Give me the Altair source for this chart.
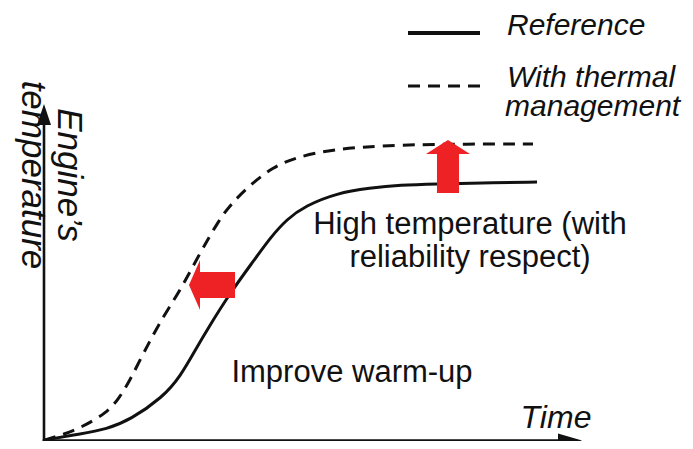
import altair as alt
import pandas as pd

# Conceptual curves (time in %, temperature in %)
time_ref = [0.0, 6.69, 11.71, 15.99, 22.12, 25.28, 28.44, 30.30, 34.57, 39.22, 42.01,
            45.17, 48.51, 54.46, 60.59, 66.17, 73.05, 81.04, 91.64]
temp_ref = [0.1, 1.93, 3.41, 6.07, 12.89, 18.81, 27.70, 32.74, 43.70, 53.78, 60.0,
            65.63, 69.48, 73.33, 74.81, 75.70, 76.0, 76.30, 76.59]

time_tm = [0.0, 3.90, 6.69, 11.71, 14.13, 15.99, 17.84, 19.70, 21.19, 23.42, 25.65,
           29.00, 32.53, 34.76, 38.29, 42.57, 47.03, 53.16, 59.29, 65.61, 77.88, 90.89]
temp_tm = [0.1, 1.93, 3.70, 8.15, 12.89, 17.93, 23.85, 29.48, 33.93, 39.85, 45.48,
           55.56, 65.33, 70.07, 75.70, 81.04, 84.0, 86.07, 86.96, 87.56, 87.85, 87.85]

# annotations
note_text = ["High temperature (with", "reliability respect)", "Improve warm-up"]
note_x = [79.18, 79.18, 57.25]
note_y = [61.19, 51.41, 17.33]

ylab_text = ["Engine\u2019s", "temperature"]
ylab_x = [2.60, -4.09]
ylab_y = [78.67, 78.67]

xlab_text = ["Time"]
xlab_x = [95.17]
xlab_y = [3.70]

legend_labels = ["Reference", "With thermal", "management"]
legend_label_x = [86.06, 86.06, 85.70]
legend_label_y = [120.15, 104.74, 96.15]
legend_line_x = [67.66, 81.04]
legend_line_y = [120.74, 105.04]

XDOM = [-6.691, 119.145]
YDOM = [-0.148, 128.148]
FONT = "Liberation Sans"
RED = "#ee2124"
INK = "#111111"

xs = alt.Scale(domain=XDOM, nice=False, zero=False)
ys = alt.Scale(domain=YDOM, nice=False, zero=False)


def X(f="x"):
    return alt.X(f + ":Q", scale=xs, axis=None)


def Y(f="y"):
    return alt.Y(f + ":Q", scale=ys, axis=None)


ref_df = pd.DataFrame({"x": time_ref, "y": temp_ref})
tm_df = pd.DataFrame({"x": time_tm, "y": temp_tm})

ref_line = alt.Chart(ref_df).mark_line(
    color=INK, strokeWidth=3, interpolate="basis"
).encode(x=X(), y=Y())

tm_line = alt.Chart(tm_df).mark_line(
    color=INK, strokeWidth=3, strokeDash=[12, 8], interpolate="basis"
).encode(x=X(), y=Y())

# axes with arrows
yaxis_df = pd.DataFrame({"x": [0.0], "y": [-0.4], "y2": [94.5]})
xaxis_df = pd.DataFrame({"x": [-0.25], "x2": [96.0], "y": [0.0]})
yaxis = alt.Chart(yaxis_df).mark_rule(color=INK, strokeWidth=2.6).encode(
    x=X(), y=Y(), y2="y2:Q")
xaxis = alt.Chart(xaxis_df).mark_rule(color=INK, strokeWidth=2.6).encode(
    x=X(), x2="x2:Q", y=Y())

yhead = alt.Chart(pd.DataFrame({"x": [0.0], "y": [99.70]})).mark_point(
    shape="M0,0 L7,21 L-7,21 Z", size=4, filled=True, fill=INK,
    strokeWidth=0, opacity=1
).encode(x=X(), y=Y())
xhead = alt.Chart(pd.DataFrame({"x": [100.0], "y": [0.0]})).mark_point(
    shape="M0,0 L-24,-7 L-24,7 Z", size=4, filled=True, fill=INK,
    strokeWidth=0, opacity=1
).encode(x=X(), y=Y())

# red arrows
left_arrow = alt.Chart(pd.DataFrame({"x": [26.95], "y": [46.07]})).mark_point(
    shape="M0,0 L11,-25 L11,-13 L46,-13 L46,13 L11,13 L11,25 Z",
    size=4, filled=True, fill=RED, strokeWidth=0, opacity=1
).encode(x=X(), y=Y())
up_arrow = alt.Chart(pd.DataFrame({"x": [75.09], "y": [89.04]})).mark_point(
    shape="M0,0 L22,14 L11,14 L11,53 L-11,53 L-11,14 L-22,14 Z",
    size=4, filled=True, fill=RED, strokeWidth=0, opacity=1
).encode(x=X(), y=Y())

# texts
notes = alt.Chart(pd.DataFrame({"t": note_text, "x": note_x, "y": note_y})).mark_text(
    font=FONT, fontSize=31, color=INK, align="center", baseline="alphabetic"
).encode(x=X(), y=Y(), text="t:N")

ylabs = alt.Chart(pd.DataFrame({"t": ylab_text, "x": ylab_x, "y": ylab_y})).mark_text(
    font=FONT, fontSize=35, fontStyle="italic", color=INK, align="center",
    baseline="alphabetic", angle=90
).encode(x=X(), y=Y(), text="t:N")

xlab = alt.Chart(pd.DataFrame({"t": xlab_text, "x": xlab_x, "y": xlab_y})).mark_text(
    font=FONT, fontSize=32, fontStyle="italic", color=INK, align="center",
    baseline="alphabetic"
).encode(x=X(), y=Y(), text="t:N")

leg_text = alt.Chart(pd.DataFrame({"t": legend_labels, "x": legend_label_x,
                                   "y": legend_label_y})).mark_text(
    font=FONT, fontSize=30, fontStyle="italic", color=INK, align="left",
    baseline="alphabetic"
).encode(x=X(), y=Y(), text="t:N")

leg_solid = alt.Chart(pd.DataFrame({"x": [legend_line_x[0]], "x2": [legend_line_x[1]],
                                    "y": [legend_line_y[0]]})).mark_rule(
    color=INK, strokeWidth=4
).encode(x=X(), x2="x2:Q", y=Y())
leg_dash = alt.Chart(pd.DataFrame({"x": [legend_line_x[0]], "x2": [legend_line_x[1]],
                                   "y": [legend_line_y[1]]})).mark_rule(
    color=INK, strokeWidth=3, strokeDash=[12, 8]
).encode(x=X(), x2="x2:Q", y=Y())

chart = alt.layer(
    ref_line, tm_line, yaxis, xaxis, yhead, xhead, left_arrow, up_arrow,
    notes, ylabs, xlab, leg_text, leg_solid, leg_dash
).properties(
    width=677, height=433, padding=0, autosize="none", background="white"
).configure_view(stroke=None)

chart.save("out.html", embed_options={"renderer": "svg", "actions": False})
